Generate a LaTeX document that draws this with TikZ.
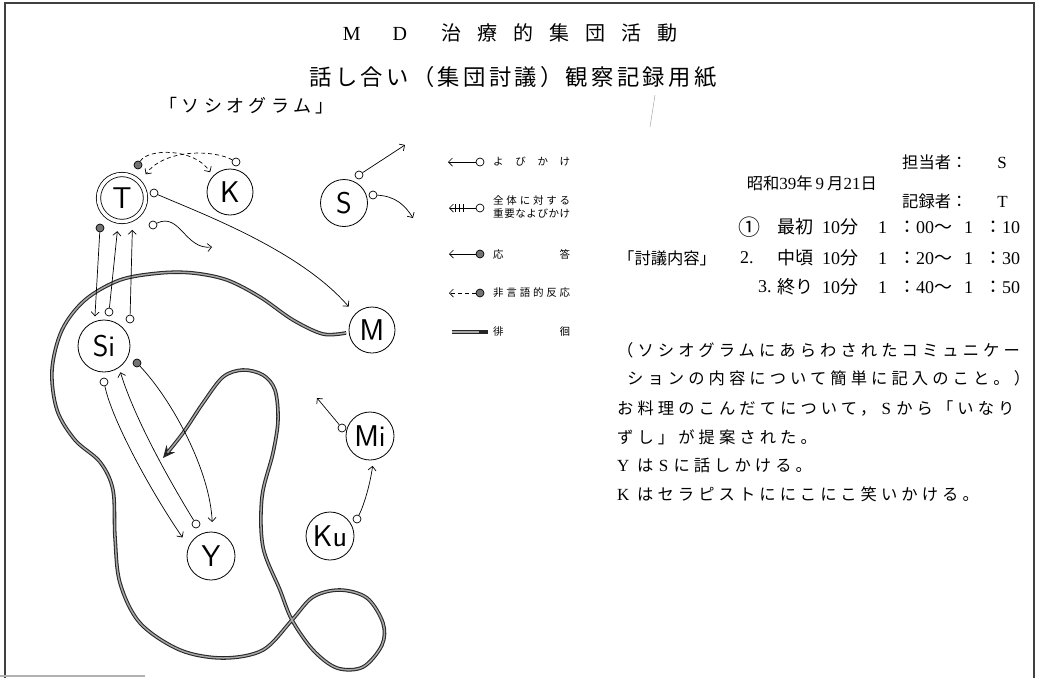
\documentclass[tikz,border=0pt]{standalone}
\usepackage{fontspec}
\setmainfont{Liberation Serif}
\newfontfamily\jp{Noto Sans CJK JP}
\newfontfamily\jpw[LetterSpace=25]{Noto Sans CJK JP}
\newfontfamily\jpsub[LetterSpace=15]{Noto Sans CJK JP}
\newfontfamily\lt{Liberation Serif}
\newcommand\latn[1]{{\lt\fontsize{17}{17}\selectfont #1}}
\newcommand\latb[1]{{\lt\fontsize{18}{18}\selectfont #1}}
\usetikzlibrary{arrows.meta}
\tikzset{
  person/.style={circle, draw, line width=0.8pt, minimum size=46pt, inner sep=0pt, outer sep=7pt,
    font=\sffamily\fontsize{30}{30}\selectfont},
  callc/.style={circle, draw, fill=white, line width=0.7pt, minimum size=8pt, inner sep=0pt},
  respc/.style={circle, draw, fill=black!55, line width=0.7pt, minimum size=8pt, inner sep=0pt},
  arr/.style={line width=0.7pt, -{Straight Barb[length=4pt,width=8pt]}},
  nv/.style={arr, dash pattern=on 4pt off 3pt},
  wander/.style={line width=3.6pt, draw=black!85,
    postaction={draw=gray!70, line width=1.5pt, -, shorten >=9pt}},
  legt/.style={inner sep=0pt, anchor=west, font=\jp\fontsize{10.5}{13}\selectfont},
  rt/.style={inner sep=0pt, font=\jp\fontsize{16.3}{16.3}\selectfont},
  rtb/.style={inner sep=0pt, anchor=west, font=\jp\fontsize{18}{18}\selectfont},
  rtw/.style={inner sep=0pt, anchor=west, font=\jpw\fontsize{16.3}{16.3}\selectfont},
}
\begin{document}
\begin{tikzpicture}[x=1pt,y=-1pt]
\useasboundingbox (0,0) rectangle (1037,678);
% frame
\draw[black!75, line width=1.2pt] (5,678) -- (5,3) -- (1034,3) -- (1034,678);
\draw[gray!60, line width=1.5pt] (0,676) -- (145,676);
\draw[gray!70, line width=0.5pt] (655,95) -- (650,127);

% titles
\node[inner sep=0pt, font=\fontsize{20}{20}\selectfont] (ttl) at (510,33)
  {{\lt M}\hspace{32pt}{\lt D}\hspace{34pt}\jp 治\hspace{16pt}療\hspace{16pt}的\hspace{16pt}集\hspace{16pt}団\hspace{16pt}活\hspace{16pt}動};
\node[inner sep=0pt, font=\jpsub\fontsize{22.3}{22.3}\selectfont] (sub) at (513,77)
  {話し合い（集団討議）観察記録用紙};
\node[inner sep=0pt, anchor=west, font=\jpw\fontsize{18}{18}\selectfont] (soc) at (159,106)
  {「ソシオグラム」};

% persons
\node[person, double, double distance=3.5pt, minimum size=47pt, outer sep=10pt] (T) at (122,198) {T};
\node[person, outer sep=5pt] (K) at (230,192) {K};
\node[person, minimum size=47pt] (S) at (344,203) {S};
\node[person, outer sep=10pt] (M) at (372,330) {M};
\node[person, minimum size=52pt, outer sep=5pt] (Si) at (104,346) {Si};
\node[person, minimum size=48pt, outer sep=10pt] (Y) at (211,556) {Y};
\node[person, minimum size=48pt, outer sep=6pt] (Mi) at (370,436) {Mi};
\node[person, minimum size=48pt] (Ku) at (330,536) {Ku};

% wandering path
\draw[wander, -{Stealth[length=12pt,width=11pt]}] plot[smooth, tension=0.55] coordinates {
  ([xshift=7pt]M.185) (323,334) (293,320) (260,297) (227,280) (193,273) (160,273)
  (120,280) (85,300) (62,330) (52,370) (57,410) (75,440) (100,462) (113,490)
  (115,537) (120,583) (140,623) (180,650) (223,658) (263,650) (292,620)
  (313,597) (340,590) (367,598) (383,623) (382,645) (363,667) (337,668) (313,650)
  (292,620) (280,590) (263,547) (262,497) (273,453) (278,420) (275,390) (263,375)
  (243,370) (223,377) (203,403) (183,433) (163,458)};

% markers
\node[respc] (tdot) at (138,165) {};
\node[callc] (kc) at (236,162) {};
\node[callc] (tc1) at (154,193) {};
\node[callc] (tc2) at (153,225) {};
\node[callc] (sc1) at (359,175) {};
\node[callc] (sc2) at (373,195) {};
\node[respc] (tdot2) at (100,228) {};
\node[callc] (sic1) at (109,312) {};
\node[callc] (sic2) at (130,319) {};
\node[callc] (sic3) at (104,382) {};
\node[respc] (sidot) at (137,363) {};
\node[callc] (yc) at (196,524) {};
\node[callc] (mic) at (342,428) {};
\node[callc] (kuc) at (357,519) {};
\coordinate (e1) at (212,247);
\coordinate (e2) at (405,145);
\coordinate (e3) at (413,218);
\coordinate (e4) at (317,398);

% connectors
\draw[nv] (tdot) .. controls (148,148) and (195,148) .. (K.135);
\draw[nv] (kc) .. controls (215,150) and (165,148) .. (T.45);
\draw[arr] (tc1) .. controls (200,213) and (300,250) .. (M.135);
\draw[arr] (tc2) .. controls (180,212) and (185,250) .. (e1);
\draw[arr] (sc1) -- (e2);
\draw[arr] (sc2) .. controls (395,196) and (405,205) .. (e3);
\draw[arr] (tdot2) -- (Si.107);
\draw[arr] (sic1) -- (T.262);
\draw[arr] (sic2) -- (T.288);
\draw[arr] (sic3) .. controls (112,420) and (150,490) .. (Y.147);
\draw[arr] (yc) .. controls (172,485) and (135,420) .. (Si.-58);
\draw[arr] (sidot) .. controls (172,400) and (210,470) .. (Y.88);
\draw[arr] (mic) -- (e4);
\draw[arr] (kuc) .. controls (364,505) and (370,485) .. (Mi.-85);

% legend
\node[callc] (L1) at (480,162) {};
\coordinate (L1e) at (448,162);
\draw[arr] (L1) -- (L1e);
\node[legt] at (493,162) {\makebox[77pt]{よ\hfill び\hfill か\hfill け}};
\node[callc] (L2) at (480,208) {};
\coordinate (L2e) at (449,208);
\draw[arr] (L2) -- (L2e);
\draw[line width=0.7pt] (455,204) -- (455,212) (459,204) -- (459,212) (463,204) -- (463,212);
\node[legt, align=left] at (493,207) {\makebox[77pt]{全\hfill 体\hfill に\hfill 対\hfill す\hfill る}\\
  \makebox[77pt]{重\hfill 要\hfill な\hfill よ\hfill び\hfill か\hfill け}};
\node[respc] (L3) at (480,254) {};
\coordinate (L3e) at (449,254);
\draw[arr] (L3) -- (L3e);
\node[legt] at (493,254) {\makebox[77pt]{応\hfill 答}};
\node[respc] (L4) at (480,293) {};
\coordinate (L4e) at (449,293);
\draw[nv] (L4) -- (L4e);
\node[legt] at (493,293) {\makebox[77pt]{非\hfill 言\hfill 語\hfill 的\hfill 反\hfill 応}};
\coordinate (L5a) at (452,332);
\coordinate (L5b) at (488,332);
\draw[wander] (L5a) -- (L5b);
\node[legt] at (493,332) {\makebox[77pt]{徘\hfill 徊}};

% right text
\node[rt, anchor=west] at (902,162) {担当者：\hspace{30pt}\latn{S}};
\node[rt, anchor=east] at (877,183) {昭和\latn{39}年\hspace{3pt}\latn{9}\hspace{3pt}月\latn{21}日};
\node[rt, anchor=west] at (902,201) {記録者：\hspace{30pt}\latn{T}};

\node[rt, anchor=west, font=\jp\fontsize{22}{22}\selectfont] at (738,227) {①};
\node[rt, anchor=west] at (618,258) {「討議内容」};
\node[rt, anchor=west] at (740,258) {\latb{2.}};
\node[rt, anchor=west] at (758,287) {\latb{3.}};
\node[rtb] at (777,227) {最初\hspace{9pt}\latb{10}分\hspace{20pt}\latb{1}\hspace{11pt}：\latb{00}～\hspace{12pt}\latb{1}\hspace{11pt}：\latb{10}};
\node[rtb] at (777,258) {中頃\hspace{9pt}\latb{10}分\hspace{20pt}\latb{1}\hspace{11pt}：\latb{20}～\hspace{12pt}\latb{1}\hspace{11pt}：\latb{30}};
\node[rtb] at (777,287) {終り\hspace{9pt}\latb{10}分\hspace{20pt}\latb{1}\hspace{11pt}：\latb{40}～\hspace{12pt}\latb{1}\hspace{11pt}：\latb{50}};

\node[rtw] at (617,350) {（ソシオグラムにあらわされたコミュニケー};
\node[rtw] at (627,378) {ションの内容について簡単に記入のこと。）};
\node[rtw] at (617,408) {お料理のこんだてについて，\makebox[20pt]{\latn{S}}から「いなり};
\node[rtw] at (617,437) {ずし」が提案された。};
\node[rtw] at (617,465) {\makebox[20pt][l]{\latn{Y}}は\makebox[20pt]{\latn{S}}に話しかける。};
\node[rtw] at (617,494) {\makebox[20pt][l]{\latn{K}}はセラピストににこにこ笑いかける。};
\end{tikzpicture}
\end{document}
